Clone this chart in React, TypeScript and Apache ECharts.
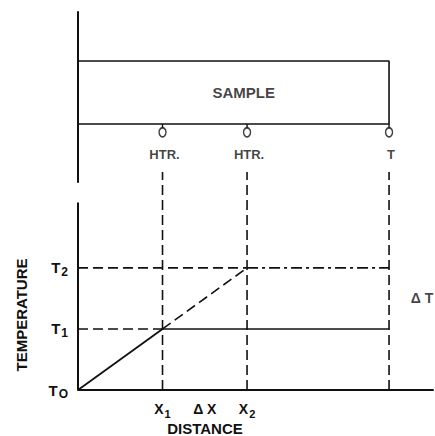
import React, { useEffect, useRef } from "react";
import * as echarts from "echarts";

// Positions along the sample (distance units): origin, heater 1, heater 2, thermocouple
const xPositions = [0, 1, 2, 3.68];
const heaterLabels = ["HTR.", "HTR.", "T"];
// Temperature levels T0, T1, T2
const tempLevels = [0, 1, 2];
const tempTickLabels = ["{t|T}{s|O}", "{t|T}{s|1}", "{t|T}{s|2}"];
// x-axis tick labels (at half-unit steps)
const distTickLabels: Record<number, string> = {
  2: "{t|X}{s|1}",
  3: "{t|\u0394 X}",
  4: "{t|X}{s|2}",
};

// Lower plot ranges
const xMax = 4.2;
const yMax = 3.57;
const yAxisTop = 3.07;
// Upper (sample) drawing in its own units
const upperMax = 13;
const sampleBottom = 4.43;
const sampleTop = 9.25;
const sensorLevel = 3.8;
const sensorLabelLevel = 2.14;
const sampleLabelPos = [1.96, 6.84];
const deltaTPos = [4.07, 1.5];

const FONT = "'Liberation Sans', 'DejaVu Sans', Arial, sans-serif";

export default function App() {
  const ref = useRef<HTMLDivElement>(null);
  useEffect(() => {
    if (!ref.current) return;
    const chart = echarts.init(ref.current, undefined, { renderer: "svg" });
    const black = "#111";
    const solid = (w: number) => ({ color: black, width: w, type: "solid" as const });
    const dashed = { color: black, width: 1.6, type: [10, 5] as any };
    const dashDot = { color: black, width: 1.6, type: [11, 4, 3, 4] as any };
    const lineSeries = (data: any[], lineStyle: any, grid = 0) => ({
      type: "line",
      xAxisIndex: grid,
      yAxisIndex: grid,
      data,
      symbol: "none",
      lineStyle,
      silent: true,
      clip: false,
      z: 3,
    });
    const rich = (size: number) => ({
      t: { fontSize: size, fontWeight: "bold", fontFamily: FONT, color: black, lineHeight: 20 },
      s: {
        fontSize: size - 3,
        fontWeight: "bold",
        fontFamily: FONT,
        color: black,
        verticalAlign: "bottom",
        lineHeight: 12,
        padding: [0, 0, 0, 1],
      },
    });
    const [x0, x1, x2, xT] = xPositions;
    const [t0, t1, t2] = tempLevels;

    const series: any[] = [
      // lower plot
      lineSeries([[x0, t0], [x0, yAxisTop]], solid(2)),
      lineSeries([[x0, t0], [x1, t1]], solid(1.8)),
      lineSeries([[x1, t1], [x2, t2]], dashed),
      lineSeries([[x1, t1], [xT, t1]], solid(1.6)),
      lineSeries([[x2, t2], [xT, t2]], dashDot),
      lineSeries([[x0, t1], [x1, t1]], dashed),
      lineSeries([[x0, t2], [x2, t2]], dashed),
      lineSeries([[x1, t0], [x1, yMax]], dashed),
      lineSeries([[x2, t0], [x2, yMax]], dashed),
      lineSeries([[xT, t0], [xT, yMax]], dashed),
      {
        type: "scatter",
        xAxisIndex: 0,
        yAxisIndex: 0,
        data: [deltaTPos],
        symbolSize: 0,
        silent: true,
        label: {
          show: true,
          position: "inside",
          formatter: "\u0394 T",
          color: black,
          fontSize: 14,
          fontWeight: "bold",
          fontFamily: FONT,
        },
      },
      // upper drawing: sample bar
      lineSeries(
        [[x0, sampleTop], [xT, sampleTop], [xT, sampleBottom], [x0, sampleBottom]],
        solid(1.6),
        1
      ),
      lineSeries([[x1, sampleBottom], [x1, sensorLevel + 0.35]], solid(1.4), 1),
      lineSeries([[x2, sampleBottom], [x2, sensorLevel + 0.35]], solid(1.4), 1),
      lineSeries([[xT, sampleBottom], [xT, sensorLevel + 0.35]], solid(1.4), 1),
      {
        type: "scatter",
        xAxisIndex: 1,
        yAxisIndex: 1,
        data: [[x1, sensorLevel], [x2, sensorLevel], [xT, sensorLevel]],
        symbol: "circle",
        symbolSize: [7, 9],
        itemStyle: { color: "#fff", borderColor: black, borderWidth: 1.6 },
        silent: true,
        z: 4,
      },
      {
        type: "scatter",
        xAxisIndex: 1,
        yAxisIndex: 1,
        data: [
          { value: [x1, sensorLabelLevel], name: heaterLabels[0] },
          { value: [x2, sensorLabelLevel], name: heaterLabels[1] },
          { value: [xT, sensorLabelLevel], name: heaterLabels[2] },
        ],
        symbolSize: 0,
        silent: true,
        label: {
          show: true,
          position: "inside",
          formatter: (p: any) => p.name,
          color: black,
          fontSize: 13,
          fontWeight: "bold",
          fontFamily: FONT,
          offset: [2, 0],
        },
      },
      {
        type: "scatter",
        xAxisIndex: 1,
        yAxisIndex: 1,
        data: [sampleLabelPos],
        symbolSize: 0,
        silent: true,
        label: {
          show: true,
          position: "inside",
          formatter: "SAMPLE",
          color: black,
          fontSize: 15,
          fontWeight: "bold",
          fontFamily: FONT,
        },
      },
    ];

    chart.setOption({
      animation: false,
      backgroundColor: "#fff",
      grid: [
        { left: 78, right: 2, top: 172, bottom: 46 },
        { left: 78, right: 2, top: 12, bottom: 254 },
      ],
      xAxis: [
        {
          type: "value",
          gridIndex: 0,
          min: 0,
          max: xMax,
          interval: 0.5,
          axisLine: { show: true, onZero: false, lineStyle: { color: black, width: 2 } },
          axisTick: { show: false },
          splitLine: { show: false },
          axisLabel: {
            show: true,
            margin: 9,
            showMaxLabel: false,
            formatter: (v: number) => distTickLabels[Math.round(v * 2)] ?? "",
            rich: rich(14),
          },
        },
        {
          type: "value",
          gridIndex: 1,
          min: 0,
          max: xMax,
          show: false,
        },
      ],
      yAxis: [
        {
          type: "value",
          gridIndex: 0,
          min: 0,
          max: yMax,
          interval: 1,
          axisLine: { show: false },
          axisTick: { show: false },
          splitLine: { show: false },
          axisLabel: {
            show: true,
            margin: 10,
            showMaxLabel: false,
            formatter: (v: number) => {
              const i = tempLevels.indexOf(Math.round(v));
              return i >= 0 ? tempTickLabels[i] : "";
            },
            rich: rich(15),
          },
        },
        {
          type: "value",
          gridIndex: 1,
          min: 0,
          max: upperMax,
          axisLine: { show: true, lineStyle: { color: black, width: 2 } },
          axisTick: { show: false },
          axisLabel: { show: false },
          splitLine: { show: false },
        },
      ],
      graphic: [
        {
          type: "text",
          x: 21,
          y: 315,
          rotation: Math.PI / 2,
          style: {
            text: "TEMPERATURE",
            fill: black,
            font: `bold 15px ${FONT}`,
            align: "center",
            verticalAlign: "middle",
          },
        },
        {
          type: "text",
          x: 205,
          y: 421,
          style: {
            text: "DISTANCE",
            fill: black,
            font: `bold 15px ${FONT}`,
            align: "center",
            verticalAlign: "top",
          },
        },
      ],
      series,
    });
    return () => chart.dispose();
  }, []);
  return (
    <div
      ref={ref}
      style={{ position: "fixed", left: 0, top: 0, width: 435, height: 436 }}
    />
  );
}
